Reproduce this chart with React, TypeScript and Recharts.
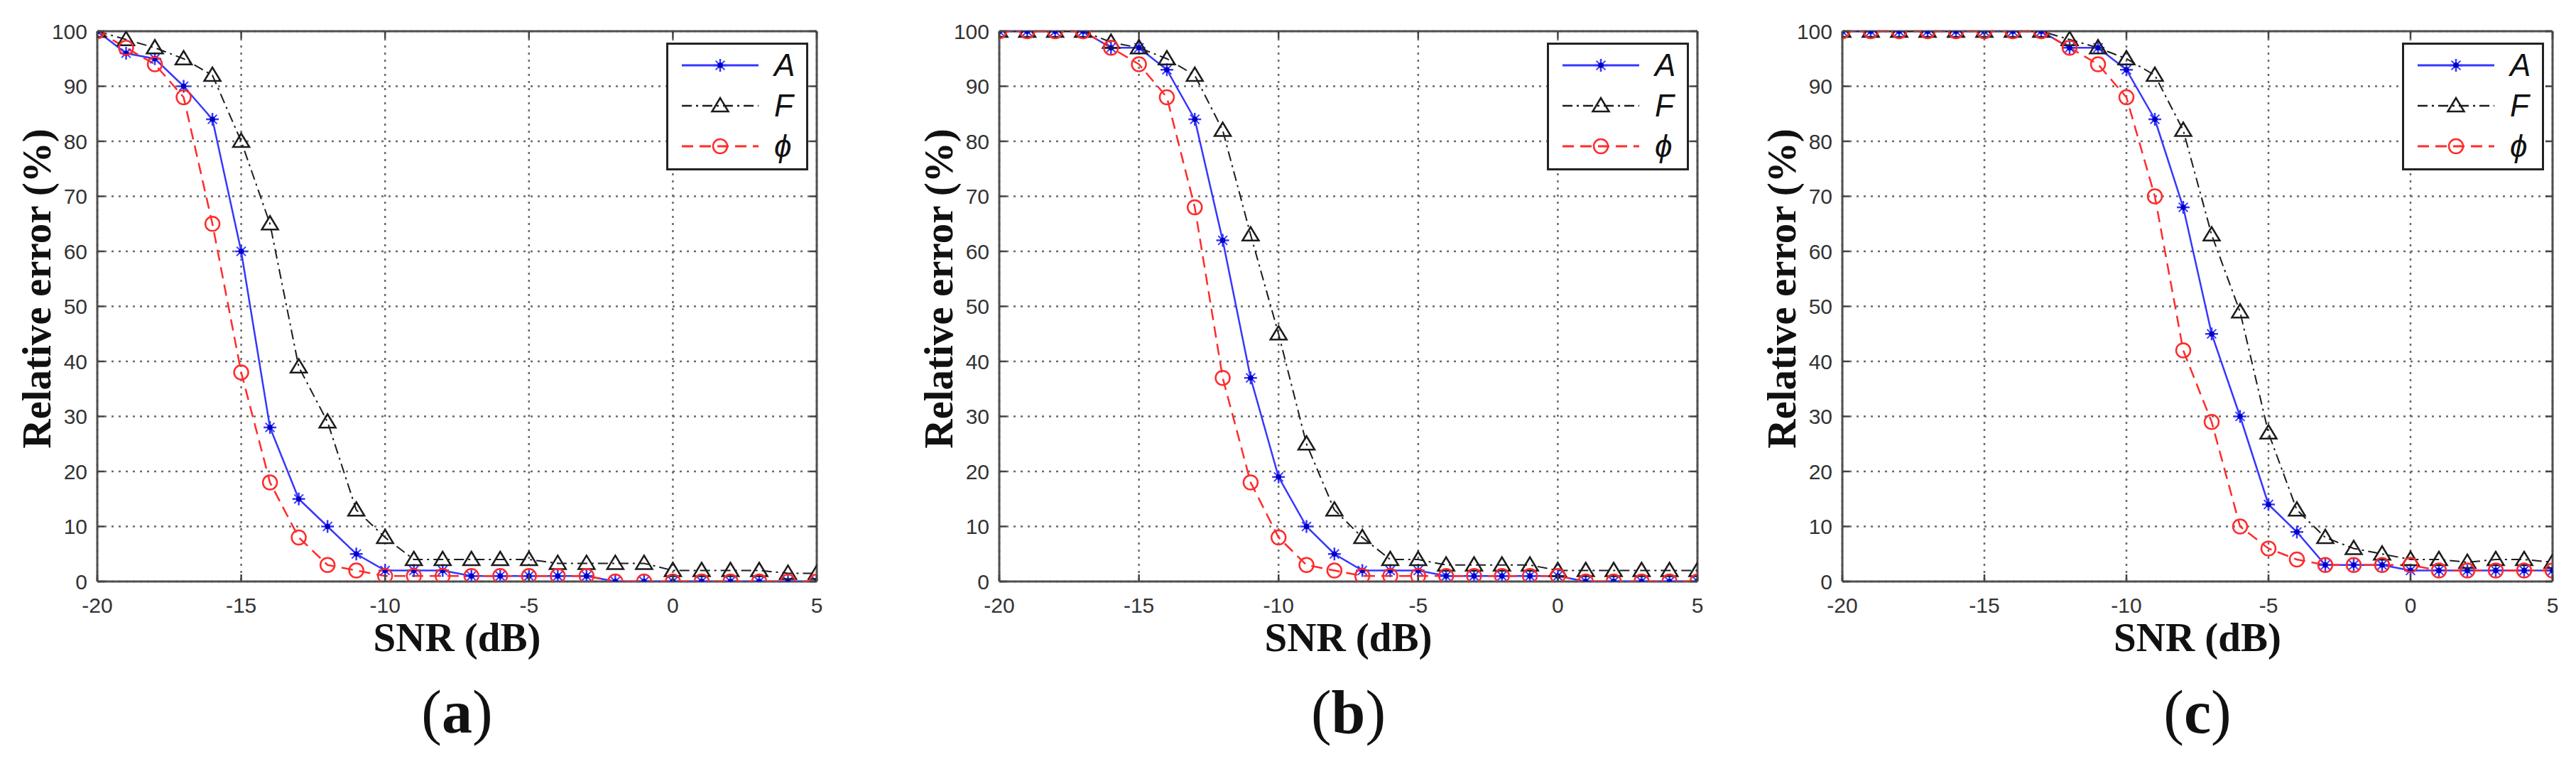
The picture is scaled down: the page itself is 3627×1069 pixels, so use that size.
import React from 'react';
import { LineChart, Line, XAxis, YAxis, CartesianGrid, ReferenceLine, Legend } from 'recharts';

// ---------- data ----------
const SNR = [-20, -19, -18, -17, -16, -15, -14, -13, -12, -11, -10, -9, -8, -7, -6, -5, -4, -3, -2, -1, 0, 1, 2, 3, 4, 5];

const A_a = [100, 96, 95, 90, 84, 60, 28, 15, 10, 5, 2, 2, 2, 1, 1, 1, 1, 1, 0, 0, 0, 0, 0, 0, 0, 0];
const F_a = [100, 98.5, 97, 95, 92, 80, 65, 39, 29, 13, 8, 4, 4, 4, 4, 4, 3.3, 3.3, 3.3, 3.3, 2, 2, 2, 2, 1.5, 1.5];
const PHI_a = [100, 97, 94, 88, 65, 38, 18, 8, 3, 2, 1, 1, 1, 1, 1, 1, 1, 1, 0, 0, 0, 0, 0, 0, 0, 0];

const A_b = [100, 100, 100, 100, 97, 97, 93, 84, 62, 37, 19, 10, 5, 2, 2, 2, 1, 1, 1, 1, 1, 0, 0, 0, 0, 0];
const F_b = [100, 100, 100, 100, 98, 97, 95, 92, 82, 63, 45, 25, 13, 8, 4, 4, 3, 3, 3, 3, 2, 2, 2, 2, 2, 2];
const PHI_b = [100, 100, 100, 100, 97, 94, 88, 68, 37, 18, 8, 3, 2, 1, 1, 1, 1, 1, 1, 1, 1, 0, 0, 0, 0, 0];

const A_c = [100, 100, 100, 100, 100, 100, 100, 100, 97, 97, 93, 84, 68, 45, 30, 14, 9, 3, 3, 3, 2, 2, 2, 2, 2, 2];
const F_c = [100, 100, 100, 100, 100, 100, 100, 100, 98.5, 97, 95, 92, 82, 63, 49, 27, 13, 8, 6, 5, 4, 4, 3.5, 4, 4, 3.5];
const PHI_c = [100, 100, 100, 100, 100, 100, 100, 100, 97, 94, 88, 70, 42, 29, 10, 6, 4, 3, 3, 3, 3, 2, 2, 2, 2, 2];

const X_TICKS = [-20, -15, -10, -5, 0, 5];
const Y_TICKS = [0, 10, 20, 30, 40, 50, 60, 70, 80, 90, 100];
const X_DOMAIN = [-20, 5];
const Y_DOMAIN = [0, 100];
const X_TITLE = 'SNR (dB)';
const Y_TITLE = 'Relative error (%)';
const CAPTIONS = ['a', 'b', 'c'];
const SERIES_NAMES = ['A', 'F', 'ϕ'];

// ---------- styles ----------
const SANS = '"Liberation Sans", Arial, Helvetica, sans-serif';
const SERIF = '"Liberation Serif", "Times New Roman", Times, serif';

const SERIES = [
  { key: 'A', name: SERIES_NAMES[0], color: '#3636ff', dash: undefined as string | undefined, width: 2.5, marker: 'star' },
  { key: 'F', name: SERIES_NAMES[1], color: '#1c1c1c', dash: '14 6 3 6', width: 2, marker: 'triangle' },
  { key: 'P', name: SERIES_NAMES[2], color: '#ff2b2b', dash: '16 9', width: 2.5, marker: 'circle' },
];

const H = 1069;
const PLOT_TOP = 44;
const PLOT_BOTTOM = 819;
const XH = 40;
const TICK_SIZE = 6;
const X_TICK_MARGIN = 10;
const Y_TICK_MARGIN = 8;
const INNER_TICK = 10;
const LEG_W = 200;
const LEG_H = 180;

const PANELS = [
  { left: 0, width: 1209, plotLeft: 137, plotRight: 1150 },
  { left: 1209, width: 1209, plotLeft: 1407, plotRight: 2390 },
  { left: 2418, width: 1209, plotLeft: 2594, plotRight: 3594 },
];

const PANEL_DATA = [
  { A: A_a, F: F_a, P: PHI_a },
  { A: A_b, F: F_b, P: PHI_b },
  { A: A_c, F: F_c, P: PHI_c },
];

function Marker({ kind, cx, cy, color }: { kind: string; cx: number; cy: number; color: string }) {
  if (cx == null || cy == null || isNaN(cx) || isNaN(cy)) return null;
  if (kind === 'star') {
    const r = 9;
    const d = 6.4;
    return (
      <g>
        <line x1={cx} y1={cy - r} x2={cx} y2={cy + r} stroke={color} strokeWidth={2.5} />
        <line x1={cx - r} y1={cy} x2={cx + r} y2={cy} stroke={color} strokeWidth={2.5} />
        <line x1={cx - d} y1={cy - d} x2={cx + d} y2={cy + d} stroke={color} strokeWidth={2} />
        <line x1={cx - d} y1={cy + d} x2={cx + d} y2={cy - d} stroke={color} strokeWidth={2} />
        <circle cx={cx} cy={cy} r={3.8} fill="#0000c0" />
      </g>
    );
  }
  if (kind === 'triangle') {
    return (
      <polygon
        points={`${cx},${cy - 11} ${cx - 11.5},${cy + 8} ${cx + 11.5},${cy + 8}`}
        fill="none"
        stroke={color}
        strokeWidth={2.5}
      />
    );
  }
  return <circle cx={cx} cy={cy} r={10} fill="none" stroke={color} strokeWidth={2.5} />;
}

function makeYTick(plotW: number) {
  return (props: any) => {
    const { x, y, payload } = props;
    const pl = x + TICK_SIZE + Y_TICK_MARGIN;
    const pr = pl + plotW;
    return (
      <g>
        <line x1={pl} y1={y} x2={pl + INNER_TICK} y2={y} stroke="#444" strokeWidth={2.5} />
        <line x1={pr - INNER_TICK} y1={y} x2={pr} y2={y} stroke="#444" strokeWidth={2.5} />
        <text x={x} y={y} textAnchor="end" dominantBaseline="central" fill="#333" fontSize={30} fontFamily={SANS}>
          {payload.value}
        </text>
      </g>
    );
  };
}

function makeXTick(plotH: number) {
  return (props: any) => {
    const { x, y, payload } = props;
    const pb = y - TICK_SIZE - X_TICK_MARGIN;
    const pt = pb - plotH;
    return (
      <g>
        <line x1={x} y1={pb} x2={x} y2={pb - INNER_TICK} stroke="#444" strokeWidth={2.5} />
        <line x1={x} y1={pt} x2={x} y2={pt + INNER_TICK} stroke="#444" strokeWidth={2.5} />
        <text x={x} y={y + 28} textAnchor="middle" fill="#333" fontSize={30} fontFamily={SANS}>
          {payload.value}
        </text>
      </g>
    );
  };
}

function LegendBox() {
  const rows = [32, 89, 146];
  return (
    <svg width={LEG_W} height={LEG_H} style={{ display: 'block' }}>
      <rect x={1.5} y={1.5} width={LEG_W - 3} height={LEG_H - 3} fill="#fff" stroke="#222" strokeWidth={3} />
      {SERIES.map((s, i) => (
        <g key={s.key}>
          <line x1={22} y1={rows[i]} x2={130} y2={rows[i]} stroke={s.color} strokeWidth={s.width + 0.5} strokeDasharray={s.dash} />
          <Marker kind={s.marker} cx={76} cy={rows[i]} color={s.color} />
          <text x={152} y={rows[i] + 15} fontSize={44} fontStyle="italic" fontFamily={SANS} fill="#111">
            {s.name}
          </text>
        </g>
      ))}
    </svg>
  );
}

function Panel({ idx }: { idx: number }) {
  const cfg = PANELS[idx];
  const series = PANEL_DATA[idx];
  const data = SNR.map((snr, i) => ({ snr, A: series.A[i], F: series.F[i], P: series.P[i] }));
  const yW = cfg.plotLeft - cfg.left;
  const rightM = cfg.width - (cfg.plotRight - cfg.left);
  const plotW = cfg.plotRight - cfg.plotLeft;
  const plotH = PLOT_BOTTOM - PLOT_TOP;
  const YTick = makeYTick(plotW);
  const XTick = makeXTick(plotH);
  const plotCenterRel = (cfg.plotLeft + cfg.plotRight) / 2 - cfg.left;

  const yLabel = (p: any) => {
    const vb = p.viewBox || {};
    const cx = vb.x + vb.width - 86;
    const cy = vb.y + vb.height / 2 - 25;
    return (
      <text
        x={cx}
        y={cy}
        transform={`rotate(-90 ${cx} ${cy})`}
        textAnchor="middle"
        dominantBaseline="central"
        fontSize={57}
        fontWeight={700}
        fontFamily={SERIF}
        fill="#111"
      >
        {Y_TITLE}
      </text>
    );
  };

  return (
    <div style={{ position: 'absolute', left: cfg.left, top: 0, width: cfg.width, height: H }}>
      <LineChart
        width={cfg.width}
        height={H}
        data={data}
        margin={{ top: PLOT_TOP, right: rightM, left: 0, bottom: H - PLOT_BOTTOM - XH }}
      >
        <CartesianGrid stroke="#6a6a6a" strokeDasharray="3 7" strokeWidth={2.5} />
        <XAxis
          type="number"
          dataKey="snr"
          domain={X_DOMAIN}
          ticks={X_TICKS}
          interval={0}
          allowDataOverflow
          height={XH}
          axisLine={false}
          tickLine={false}
          tickSize={TICK_SIZE}
          tickMargin={X_TICK_MARGIN}
          tick={XTick}
          label={{
            value: X_TITLE,
            position: 'bottom',
            offset: 18,
            fill: '#111',
            fontSize: 57,
            fontWeight: 700,
            fontFamily: SERIF,
          }}
        />
        <YAxis
          type="number"
          domain={Y_DOMAIN}
          ticks={Y_TICKS}
          interval={0}
          allowDataOverflow
          width={yW}
          axisLine={false}
          tickLine={false}
          tickSize={TICK_SIZE}
          tickMargin={Y_TICK_MARGIN}
          tick={YTick}
          label={yLabel}
        />
        <ReferenceLine y={Y_DOMAIN[0]} stroke="#505050" strokeWidth={3} />
        <ReferenceLine y={Y_DOMAIN[1]} stroke="#505050" strokeWidth={3} />
        <ReferenceLine x={X_DOMAIN[0]} stroke="#505050" strokeWidth={3} />
        <ReferenceLine x={X_DOMAIN[1]} stroke="#505050" strokeWidth={3} />
        {SERIES.map((s) => (
          <Line
            key={s.key}
            dataKey={s.key}
            name={s.name}
            type="linear"
            stroke={s.color}
            strokeWidth={s.width}
            strokeDasharray={s.dash}
            isAnimationActive={false}
            activeDot={false}
            dot={(p: any) => (
              <g key={`${s.key}-${p.index}`}>
                <Marker kind={s.marker} cx={p.cx} cy={p.cy} color={s.color} />
              </g>
            )}
          />
        ))}
        <Legend
          layout="horizontal"
          verticalAlign="middle"
          align="center"
          wrapperStyle={{ left: cfg.plotRight - cfg.left - 12 - LEG_W, top: 60, width: LEG_W, height: LEG_H }}
          content={() => <LegendBox />}
        />
      </LineChart>
      <div
        style={{
          position: 'absolute',
          left: plotCenterRel - 150,
          width: 300,
          top: 960,
          textAlign: 'center',
          fontFamily: SERIF,
          fontSize: 86,
          lineHeight: 1,
          color: '#111',
        }}
      >
        (<b>{CAPTIONS[idx]}</b>)
      </div>
    </div>
  );
}

export default function App() {
  return (
    <div style={{ position: 'absolute', left: 0, top: 0, width: 3627, height: 1069, background: '#fff', overflow: 'hidden' }}>
      {PANELS.map((_, i) => (
        <Panel key={i} idx={i} />
      ))}
    </div>
  );
}
